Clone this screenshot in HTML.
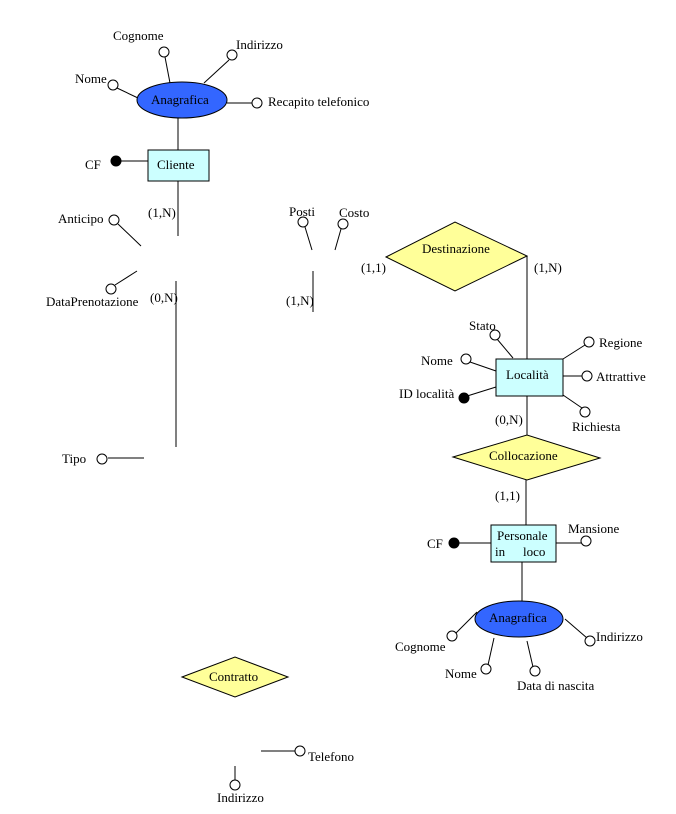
<!DOCTYPE html>
<html><head><meta charset="utf-8"><style>body{margin:0;background:#fff}svg{display:block}text{font-family:"Liberation Serif",serif;font-size:13px;fill:#000}</style></head><body>
<svg width="676" height="814" viewBox="0 0 676 814" xmlns="http://www.w3.org/2000/svg" stroke="#000" stroke-width="1" fill="none">
<g>
<line x1="178" y1="118" x2="178" y2="150"/>
<line x1="116" y1="161" x2="148" y2="161"/>
<line x1="117" y1="88" x2="138" y2="98"/>
<line x1="165" y1="57" x2="170" y2="83"/>
<line x1="229" y1="60" x2="204" y2="83"/>
<line x1="227" y1="103" x2="253" y2="103"/>
<line x1="178" y1="181" x2="178" y2="236"/>
<line x1="118" y1="224" x2="141" y2="246"/>
<line x1="115" y1="285" x2="137" y2="271"/>
<line x1="176" y1="281" x2="176" y2="447"/>
<line x1="108" y1="458" x2="144" y2="458"/>
<line x1="305" y1="227" x2="312" y2="250"/>
<line x1="341" y1="229" x2="335" y2="250"/>
<line x1="313" y1="271" x2="313" y2="312"/>
<line x1="527" y1="256" x2="527" y2="359"/>
<line x1="497" y1="339" x2="513" y2="358"/>
<line x1="470" y1="362" x2="496" y2="371"/>
<line x1="464" y1="397" x2="496" y2="387"/>
<line x1="585" y1="345" x2="563" y2="359"/>
<line x1="563" y1="376" x2="583" y2="376"/>
<line x1="563" y1="395" x2="582" y2="408"/>
<line x1="527" y1="396" x2="527" y2="435"/>
<line x1="526" y1="480" x2="526" y2="525"/>
<line x1="454" y1="543" x2="491" y2="543"/>
<line x1="556" y1="543" x2="582" y2="543"/>
<line x1="522" y1="562" x2="522" y2="604"/>
<line x1="456" y1="633" x2="477" y2="612"/>
<line x1="488" y1="665" x2="494" y2="638"/>
<line x1="533" y1="667" x2="527" y2="641"/>
<line x1="587" y1="638" x2="565" y2="619"/>
<line x1="261" y1="751" x2="296" y2="751"/>
<line x1="235" y1="766" x2="235" y2="780"/>
</g>
<ellipse cx="182" cy="100" rx="45" ry="18" fill="#3366ff"/>
<rect x="148" y="150" width="61" height="31" fill="#ccffff"/>
<polygon points="386,257 455,222 527,256 455,291" fill="#ffff99"/>
<rect x="496" y="359" width="67" height="37" fill="#ccffff"/>
<polygon points="453,457 527,435 600,458 527,480" fill="#ffff99"/>
<rect x="491" y="525" width="65" height="37" fill="#ccffff"/>
<ellipse cx="519" cy="619" rx="44" ry="18" fill="#3366ff"/>
<polygon points="182,677 235,657 288,677 235,697" fill="#ffff99"/>
<g fill="#fff">
<circle cx="113" cy="85" r="5"/><circle cx="164" cy="52" r="5"/><circle cx="232" cy="55" r="5"/><circle cx="257" cy="103" r="5"/>
<circle cx="114" cy="220" r="5"/><circle cx="111" cy="289" r="5"/><circle cx="102" cy="459" r="5"/>
<circle cx="303" cy="222" r="5"/><circle cx="343" cy="224" r="5"/>
<circle cx="495" cy="335" r="5"/><circle cx="466" cy="359" r="5"/><circle cx="589" cy="342" r="5"/><circle cx="587" cy="376" r="5"/><circle cx="585" cy="412" r="5"/>
<circle cx="586" cy="541" r="5"/><circle cx="452" cy="636" r="5"/><circle cx="486" cy="669" r="5"/><circle cx="535" cy="671" r="5"/><circle cx="590" cy="641" r="5"/>
<circle cx="300" cy="751" r="5"/><circle cx="235" cy="785" r="5"/>
</g>
<g fill="#000">
<circle cx="116" cy="161" r="5"/><circle cx="464" cy="398" r="5"/><circle cx="454" cy="543" r="5"/>
</g>
<g stroke="none">
<text x="151" y="104">Anagrafica</text>
<text x="157" y="169">Cliente</text>
<text x="113" y="40">Cognome</text>
<text x="236" y="49">Indirizzo</text>
<text x="75" y="83">Nome</text>
<text x="268" y="106">Recapito telefonico</text>
<text x="85" y="169">CF</text>
<text x="148" y="217">(1,N)</text>
<text x="58" y="223">Anticipo</text>
<text x="46" y="306">DataPrenotazione</text>
<text x="150" y="302">(0,N)</text>
<text x="62" y="463">Tipo</text>
<text x="289" y="216">Posti</text>
<text x="339" y="217">Costo</text>
<text x="286" y="305">(1,N)</text>
<text x="361" y="272">(1,1)</text>
<text x="422" y="253">Destinazione</text>
<text x="534" y="272">(1,N)</text>
<text x="469" y="330">Stato</text>
<text x="421" y="365">Nome</text>
<text x="506" y="379">Località</text>
<text x="399" y="398">ID località</text>
<text x="599" y="347">Regione</text>
<text x="596" y="381">Attrattive</text>
<text x="572" y="431">Richiesta</text>
<text x="495" y="424">(0,N)</text>
<text x="489" y="460">Collocazione</text>
<text x="495" y="500">(1,1)</text>
<text x="497" y="540">Personale</text>
<text x="495" y="556">in</text><text x="523" y="556">loco</text>
<text x="427" y="548">CF</text>
<text x="568" y="533">Mansione</text>
<text x="489" y="622">Anagrafica</text>
<text x="395" y="651">Cognome</text>
<text x="445" y="678">Nome</text>
<text x="517" y="690">Data di nascita</text>
<text x="596" y="641">Indirizzo</text>
<text x="209" y="681">Contratto</text>
<text x="308" y="761">Telefono</text>
<text x="217" y="802">Indirizzo</text>
</g>
</svg>
</body></html>
